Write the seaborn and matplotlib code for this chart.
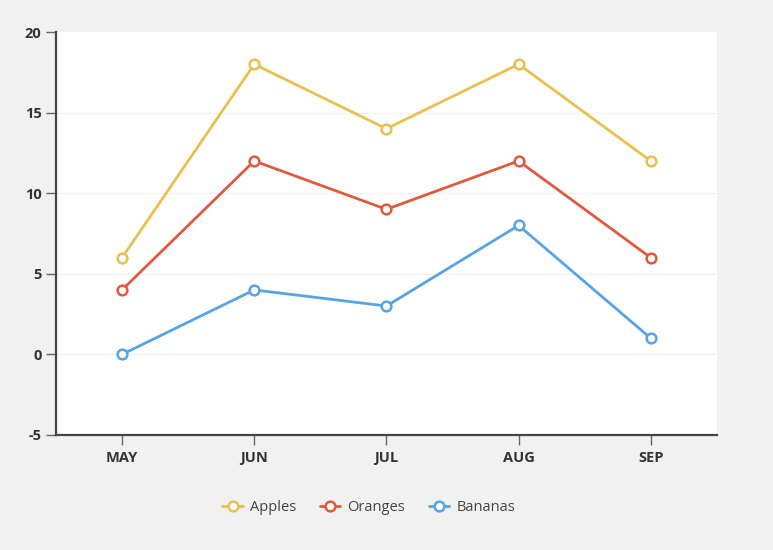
import pandas as pd
import seaborn as sns
import matplotlib.pyplot as plt

months = ["MAY", "JUN", "JUL", "AUG", "SEP"]
apples = [6, 18, 14, 18, 12]
oranges = [4, 12, 9, 12, 6]
bananas = [0, 4, 3, 8, 1]

df = pd.DataFrame({
    "month": months * 3,
    "value": apples + oranges + bananas,
    "fruit": ["Apples"] * 5 + ["Oranges"] * 5 + ["Bananas"] * 5,
})
df["x"] = df["month"].map({m: i for i, m in enumerate(months)})

palette = {"Apples": "#e9c04f", "Oranges": "#de5a3f", "Bananas": "#58a3e3"}

sns.set_style("white")
plt.rcParams["font.family"] = ["Open Sans", "DejaVu Sans"]
plt.rcParams["axes.unicode_minus"] = False

fig = plt.figure(figsize=(7.73, 5.5), dpi=100, facecolor="#f1f1f1")
ax = fig.add_axes([0.0724, 0.2091, 0.855, 0.7327])
ax.set_facecolor("white")

sns.lineplot(data=df, x="x", y="value", hue="fruit", palette=palette,
             marker="o", markersize=7, markerfacecolor="white",
             markeredgewidth=1.8, linewidth=2, ax=ax, legend=False)
# marker edge colours follow the line colour
for line in ax.lines:
    line.set_markeredgecolor(line.get_color())

ax.set_xlim(-0.5, 4.5)
ax.set_ylim(-5, 20)
ax.set_xticks(range(len(months)))
ax.set_xticklabels(months)
ax.set_yticks([-5, 0, 5, 10, 15, 20])
ax.set_xlabel("")
ax.set_ylabel("")
for g in [0, 5, 10, 15]:
    ax.axhline(g, color="#f0f0f0", linewidth=0.8, zorder=0)

for s in ["top", "right"]:
    ax.spines[s].set_visible(False)
for s in ["left", "bottom"]:
    ax.spines[s].set_color("#444444")
    ax.spines[s].set_linewidth(1.6)

ax.tick_params(axis="both", which="both", direction="out", length=7.5,
               width=1, color="#666666", labelsize=10.5, labelcolor="#333333",
               bottom=True, left=True)
ax.tick_params(axis="x", pad=4)
ax.tick_params(axis="y", pad=3)
for lab in ax.get_xticklabels() + ax.get_yticklabels():
    lab.set_fontweight("bold")

handles = [plt.Line2D([], [], color=palette[f], marker="o", markersize=7,
                      markerfacecolor="white", markeredgecolor=palette[f],
                      markeredgewidth=1.8, linewidth=2, label=f)
           for f in ["Apples", "Oranges", "Bananas"]]
fig.legend(handles=handles, loc="center", bbox_to_anchor=(0.477, 0.077),
           ncol=3, frameon=False, fontsize=10.5, handlelength=1.4,
           columnspacing=1.6, handletextpad=0.5, labelcolor="#444444")

fig.savefig("out.png", dpi=100, facecolor=fig.get_facecolor())
